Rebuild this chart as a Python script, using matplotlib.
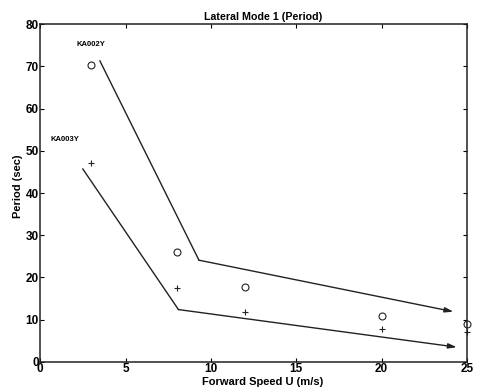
import matplotlib
matplotlib.use("Agg")
import matplotlib.pyplot as plt

# measured points (circles = KA002Y, crosses = KA003Y)
speed = [3, 8, 12, 20, 25]
period_ka002y = [70.3, 26.1, 17.7, 10.9, 8.9]
period_ka003y = [47.1, 17.6, 11.9, 7.8, 7.0]

# trend lines drawn through the data
trend_hi_x = [3.5, 9.3, 24.2]
trend_hi_y = [71.3, 24.1, 11.9]
trend_lo_x = [2.5, 8.1, 24.4]
trend_lo_y = [45.7, 12.4, 3.5]

plt.rcParams["font.family"] = ["Liberation Sans", "DejaVu Sans"]
plt.rcParams["font.weight"] = "bold"

fig = plt.figure(figsize=(4.78, 3.90), dpi=100)
ax = fig.add_axes([0.084, 0.072, 0.893, 0.866])

ax.plot(speed, period_ka002y, "o", mfc="none", mec="#222222", ms=5, mew=0.8, clip_on=False)
ax.plot(speed, period_ka003y, "+", color="#222222", ms=5, mew=0.8, clip_on=False)

for xs, ys in [(trend_hi_x, trend_hi_y), (trend_lo_x, trend_lo_y)]:
    ax.plot(xs[:-1], ys[:-1], color="#222222", lw=1.0)
    ax.annotate("", xy=(xs[-1], ys[-1]), xytext=(xs[-2], ys[-2]),
                arrowprops=dict(arrowstyle="-|>,head_length=0.5,head_width=0.15",
                                color="#222222", lw=1.0, shrinkA=0, shrinkB=0))

ax.text(2.15, 75.2, "KA002Y", fontsize=5.5, fontweight="bold", va="center")
ax.text(0.6, 52.8, "KA003Y", fontsize=5.5, fontweight="bold", va="center")

ax.set_xlim(0, 25)
ax.set_ylim(0, 80)
ax.set_xticks([0, 5, 10, 15, 20, 25])
ax.set_yticks(range(0, 81, 10))
ax.tick_params(direction="in", top=True, right=True, length=3, width=0.8,
               labelsize=8.5, pad=1)
for lbl in ax.get_xticklabels() + ax.get_yticklabels():
    lbl.set_fontweight("bold")
for s in ax.spines.values():
    s.set_linewidth(1.1)
    s.set_color("#222222")

ax.set_title("Lateral Mode 1 (Period)", fontsize=7.7, fontweight="bold", pad=3, x=0.522)
ax.set_xlabel("Forward Speed U (m/s)", fontsize=8, fontweight="bold")
ax.xaxis.set_label_coords(0.522, -0.045)
ax.set_ylabel("Period (sec)", fontsize=8, fontweight="bold")
ax.yaxis.set_label_coords(-0.04, 0.52)

fig.savefig("out.png", dpi=100)
